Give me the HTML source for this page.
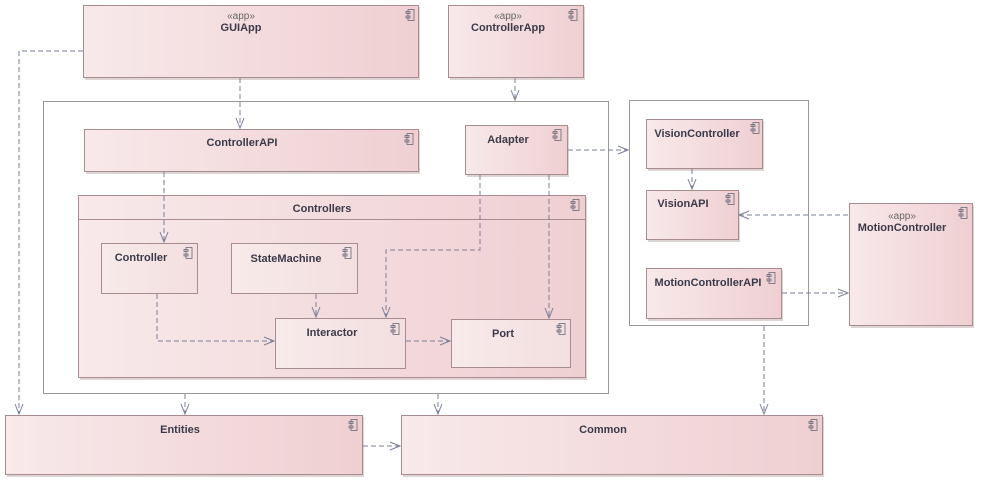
<!DOCTYPE html>
<html><head><meta charset="utf-8"><style>
html,body{margin:0;padding:0;background:#fff;}
svg{display:block;}
text{font-family:"Liberation Sans",sans-serif;font-size:11px;font-weight:bold;fill:#3a3a4a;}
.st{font-weight:normal;font-size:10px;fill:#666;}
.n{stroke:#a88c8f;stroke-width:1;}
.c{fill:none;stroke:#7a8099;stroke-width:1;stroke-dasharray:5,3;}
.a{fill:none;stroke:#7a8099;stroke-width:1;}
.ic{fill:none;stroke:#6a6a7a;stroke-width:0.8;}
</style></head><body>
<svg width="981" height="484" viewBox="0 0 981 484" xmlns="http://www.w3.org/2000/svg">
<defs>
<linearGradient id="g" x1="0" x2="1" y1="0" y2="0"><stop offset="0" stop-color="#f8e9ea"/><stop offset="1" stop-color="#efcfd2"/></linearGradient>
<linearGradient id="g2" x1="0" x2="1" y1="0" y2="0"><stop offset="0" stop-color="#f8eaea"/><stop offset="1" stop-color="#f3dfe0"/></linearGradient>
<symbol id="ic" viewBox="0 0 10 12"><rect x="3" y="0.5" width="6" height="11" class="ic"/><rect x="1" y="2.5" width="4" height="2" fill="#fff" class="ic"/><rect x="1" y="7" width="4" height="2" fill="#fff" class="ic"/></symbol>
</defs>
<rect x="43.5" y="101.5" width="565" height="292" fill="#fff" stroke="#999"/>
<rect x="629.5" y="100.5" width="179" height="225" fill="#fff" stroke="#999"/>
<g fill="#c8b8b8" opacity="0.6">
<rect x="85" y="7" width="335" height="73"/><rect x="450" y="7" width="135" height="73"/>
<rect x="86" y="131" width="334" height="43"/><rect x="467" y="127" width="102" height="50"/>
<rect x="80" y="197" width="507" height="183"/>
<rect x="648" y="121" width="116" height="50"/><rect x="648" y="192" width="92" height="50"/><rect x="648" y="270" width="135" height="51"/>
<rect x="851" y="205" width="123" height="123"/>
<rect x="7" y="417" width="357" height="60"/><rect x="403" y="417" width="421" height="60"/>
</g>
<rect x="83.5" y="5.5" width="335" height="72" fill="url(#g)" class="n"/>
<rect x="448.5" y="5.5" width="135" height="72" fill="url(#g)" class="n"/>
<rect x="84.5" y="129.5" width="334" height="42" fill="url(#g)" class="n"/>
<rect x="465.5" y="125.5" width="102" height="49" fill="url(#g)" class="n"/>
<rect x="78.5" y="195.5" width="507" height="182" fill="url(#g)" class="n"/>
<line x1="78.5" y1="219.5" x2="585.5" y2="219.5" stroke="#a88c8f"/>
<rect x="101.5" y="243.5" width="96" height="50" fill="url(#g2)" class="n"/>
<rect x="231.5" y="243.5" width="126" height="50" fill="url(#g2)" class="n"/>
<rect x="275.5" y="318.5" width="130" height="50" fill="url(#g2)" class="n"/>
<rect x="451.5" y="319.5" width="119" height="48" fill="url(#g2)" class="n"/>
<rect x="646.5" y="119.5" width="116" height="49" fill="url(#g)" class="n"/>
<rect x="646.5" y="190.5" width="92" height="49" fill="url(#g)" class="n"/>
<rect x="646.5" y="268.5" width="135" height="50" fill="url(#g)" class="n"/>
<rect x="849.5" y="203.5" width="123" height="122" fill="url(#g)" class="n"/>
<rect x="5.5" y="415.5" width="357" height="59" fill="url(#g)" class="n"/>
<rect x="401.5" y="415.5" width="421" height="59" fill="url(#g)" class="n"/>
<g>
<use href="#ic" x="405" y="9" width="10" height="12"/>
<use href="#ic" x="568" y="9" width="10" height="12"/>
<use href="#ic" x="404" y="133" width="10" height="12"/>
<use href="#ic" x="552" y="129" width="10" height="12"/>
<use href="#ic" x="570" y="199" width="10" height="12"/>
<use href="#ic" x="183" y="247" width="10" height="12"/>
<use href="#ic" x="342" y="247" width="10" height="12"/>
<use href="#ic" x="390" y="323" width="10" height="12"/>
<use href="#ic" x="556" y="323" width="10" height="12"/>
<use href="#ic" x="750" y="122" width="10" height="12"/>
<use href="#ic" x="725" y="193" width="10" height="12"/>
<use href="#ic" x="766" y="272" width="10" height="12"/>
<use href="#ic" x="958" y="207" width="10" height="12"/>
<use href="#ic" x="348" y="419" width="10" height="12"/>
<use href="#ic" x="808" y="419" width="10" height="12"/>
</g>
<text class="st" x="241" y="19" text-anchor="middle">«app»</text>
<text x="241" y="31" text-anchor="middle">GUIApp</text>
<text class="st" x="508" y="19" text-anchor="middle">«app»</text>
<text x="508" y="31" text-anchor="middle">ControllerApp</text>
<text x="242" y="146" text-anchor="middle">ControllerAPI</text>
<text x="508" y="143" text-anchor="middle">Adapter</text>
<text x="322" y="212" text-anchor="middle">Controllers</text>
<text x="141" y="261" text-anchor="middle">Controller</text>
<text x="286" y="262" text-anchor="middle">StateMachine</text>
<text x="332" y="336" text-anchor="middle">Interactor</text>
<text x="503" y="337" text-anchor="middle">Port</text>
<text x="697" y="137" text-anchor="middle">VisionController</text>
<text x="683" y="207" text-anchor="middle">VisionAPI</text>
<text x="708" y="286" text-anchor="middle">MotionControllerAPI</text>
<text class="st" x="902" y="219" text-anchor="middle">«app»</text>
<text x="902" y="231" text-anchor="middle">MotionController</text>
<text x="180" y="433" text-anchor="middle">Entities</text>
<text x="603" y="433" text-anchor="middle">Common</text>
<path class="c" d="M83 51 H19 V414"/>
<path class="c" d="M240 78 V128"/>
<path class="c" d="M515 78 V100"/>
<path class="c" d="M164 172 V242"/>
<path class="c" d="M568 150 H628"/>
<path class="c" d="M480 175 V250 H386 V317"/>
<path class="c" d="M549 175 V318"/>
<path class="c" d="M316 294 V317"/>
<path class="c" d="M157 294 V341 H274"/>
<path class="c" d="M406 341 H450"/>
<path class="c" d="M692 169 V189"/>
<path class="c" d="M848 215 H739"/>
<path class="c" d="M782 293 H848"/>
<path class="c" d="M185 394 V414"/>
<path class="c" d="M438 394 V414"/>
<path class="c" d="M764 326 V414"/>
<path class="c" d="M363 446 H400"/>
<path class="a" d="M15 404 L19 414 L23 404"/>
<path class="a" d="M236 118 L240 128 L244 118"/>
<path class="a" d="M511 90 L515 100 L519 90"/>
<path class="a" d="M160 232 L164 242 L168 232"/>
<path class="a" d="M618 146 L628 150 L618 154"/>
<path class="a" d="M382 307 L386 317 L390 307"/>
<path class="a" d="M545 308 L549 318 L553 308"/>
<path class="a" d="M312 307 L316 317 L320 307"/>
<path class="a" d="M264 337 L274 341 L264 345"/>
<path class="a" d="M440 337 L450 341 L440 345"/>
<path class="a" d="M688 179 L692 189 L696 179"/>
<path class="a" d="M749 211 L739 215 L749 219"/>
<path class="a" d="M838 289 L848 293 L838 297"/>
<path class="a" d="M181 404 L185 414 L189 404"/>
<path class="a" d="M434 404 L438 414 L442 404"/>
<path class="a" d="M760 404 L764 414 L768 404"/>
<path class="a" d="M390 442 L400 446 L390 450"/>
</svg>
</body></html>
